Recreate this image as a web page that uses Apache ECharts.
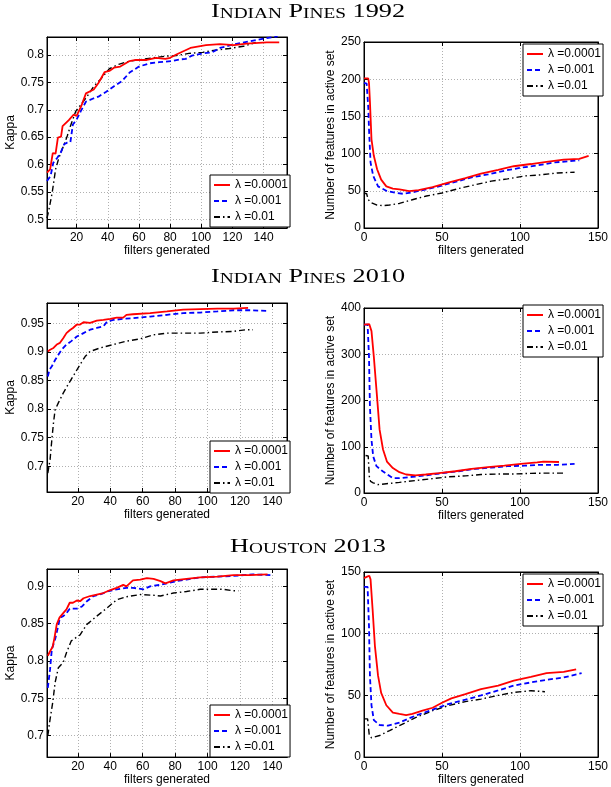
<!DOCTYPE html>
<html><head><meta charset="utf-8">
<script src="https://cdn.jsdelivr.net/npm/echarts@6/dist/echarts.min.js"></script>
<style>html,body{margin:0;padding:0;background:#fff}#c{width:611px;height:787px}</style>
</head><body><div id="c"></div>
<script>
// ---------- data ----------
const seriesNames = ['λ =0.0001', 'λ =0.001', 'λ =0.01'];
const panelTitles = ['INDIAN PINES 1992', 'INDIAN PINES 2010', 'HOUSTON 2013'];
const xLabel = 'filters generated';
const kappaLabel = 'Kappa';
const featLabel = 'Number of features in active set';

const kappaXTicks = [20, 40, 60, 80, 100, 120, 140];
const ip92KappaTicks = [0.5, 0.55, 0.6, 0.65, 0.7, 0.75, 0.8];
const ip10KappaTicks = [0.7, 0.75, 0.8, 0.85, 0.9, 0.95];
const hou13KappaTicks = [0.7, 0.75, 0.8, 0.85, 0.9];

// Indian Pines 1992 – Kappa
const ip92KappaA = [[1,0.585],[3,0.591],[4.7,0.621],[6.5,0.620],[8,0.649],[10,0.651],[11,0.670],[15,0.681],[18,0.691],[20,0.689],[23,0.707],[26,0.730],[31,0.737],[34,0.749],[38,0.769],[41,0.771],[44,0.777],[48,0.779],[54,0.789],[58,0.791],[65,0.791],[71,0.795],[77,0.793],[80,0.795],[84,0.801],[93,0.813],[103,0.818],[112,0.820],[121,0.818],[129,0.821],[142,0.823],[150,0.823]];
const ip92KappaB = [[1,0.570],[3.3,0.579],[5,0.603],[7.5,0.612],[9.7,0.621],[12,0.637],[14,0.640],[16,0.641],[17.6,0.673],[20,0.682],[22.6,0.697],[26,0.715],[31,0.721],[34,0.724],[39,0.733],[44,0.743],[49,0.752],[54,0.768],[60,0.779],[67,0.785],[73,0.787],[81,0.789],[86,0.792],[90,0.793],[94,0.799],[101,0.803],[107,0.805],[112,0.813],[120,0.819],[129,0.824],[140,0.830],[149,0.834]];
const ip92KappaC = [[1,0.502],[2.2,0.517],[4.3,0.548],[6.5,0.591],[8.6,0.612],[12,0.637],[14,0.652],[16,0.670],[19.4,0.697],[22.6,0.709],[26.6,0.724],[31,0.743],[35.5,0.756],[41,0.775],[47,0.783],[54,0.789],[60,0.791],[69,0.795],[77,0.798],[84,0.799],[92,0.803],[101,0.805],[109,0.809],[118,0.812],[127,0.816],[135,0.823]];

// Indian Pines 1992 – features
const ip92FeatA = [[0,201],[1,202],[2.7,201],[3.2,195],[3.8,170],[4.8,119],[6.3,97],[8.4,79],[11,65],[14.3,56],[18.5,53],[22.7,52],[29,49.5],[35,51],[44,55],[54,61],[65,67],[75,73],[86,78],[96,83],[107,86],[117,89],[128,92],[138,93],[144,97]];
const ip92FeatB = [[0,195],[1.7,194],[2.8,160],[3.2,133],[4.2,88],[5.9,70],[9,56],[14.3,50],[20.6,47],[25,46],[31,48],[40,52],[48,56],[58.5,62],[69,68],[79.5,72],[90,77],[100.6,81],[111,84],[121.6,88],[132,90],[138,91]];
const ip92FeatC = [[0,47],[1.7,46],[2.7,38],[4.8,34],[8,31],[12,30],[16.4,31],[22.7,33],[31,38],[40,43],[50,47],[60.6,53],[71,58],[81.6,63],[92,66],[103,70],[111,71],[124,74],[135,75]];

// Indian Pines 2010 – Kappa
const ip10KappaA = [[1.5,0.901],[2.9,0.904],[5,0.907],[7,0.913],[9,0.916],[11,0.924],[13,0.933],[15,0.938],[17,0.942],[19.4,0.948],[21.4,0.948],[23.5,0.952],[27.6,0.951],[31.7,0.955],[35.8,0.956],[40,0.958],[44,0.960],[48,0.960],[50,0.965],[54,0.966],[64.6,0.968],[75,0.971],[85,0.974],[95.5,0.975],[106,0.976],[116,0.976],[125,0.977]];
const ip10KappaB = [[1.5,0.857],[2.5,0.869],[4,0.875],[6,0.886],[8,0.895],[10,0.904],[13,0.913],[16,0.919],[19.4,0.927],[23.5,0.933],[27.6,0.939],[31.7,0.942],[35.8,0.945],[38,0.953],[42,0.956],[48,0.958],[54,0.959],[64.6,0.962],[75,0.965],[85,0.968],[95.5,0.969],[106,0.971],[116,0.973],[126,0.973],[137,0.972]];
const ip10KappaC = [[1.5,0.688],[2.9,0.712],[4,0.747],[5,0.776],[6,0.799],[8,0.811],[11,0.828],[14,0.843],[17,0.857],[21.4,0.878],[24.5,0.892],[27.6,0.901],[33.7,0.907],[42,0.913],[50,0.919],[58.5,0.923],[66.7,0.930],[75,0.933],[85,0.933],[95.5,0.933],[106,0.935],[116,0.936],[124,0.939],[128,0.939]];

// Indian Pines 2010 – features
const ip10FeatA = [[0,364],[3.4,365],[4.8,350],[6.3,295],[8,223],[10,137],[12.2,94],[14.7,68],[18.5,54],[22.7,45],[27,40],[33,38],[39.6,40],[48,43],[58.5,47],[69,52],[79.5,56],[90,59],[100.6,63],[111,66],[115,68],[125,67]];
const ip10FeatB = [[0,364],[2.3,364],[3.2,295],[3.8,187],[4.8,115],[5.9,79],[8,58],[12,47],[18.5,32],[22.7,32],[31,35],[40,38],[50,43],[60.6,47],[71,52],[81.6,55],[92,58],[103,59],[113,61],[124,61],[135,63]];
const ip10FeatC = [[1,81],[2.7,80],[3.4,36],[4.2,25],[5.9,22],[9,18],[14.3,20],[22.7,23],[33,27],[44,31],[54,35],[65,37],[75,40],[86,41],[96,41],[107,42.5],[117,43],[129,43]];

// Houston 2013 – Kappa
const hou13KappaA = [[1.5,0.807],[2.9,0.813],[4.5,0.819],[5.6,0.831],[7,0.849],[8.7,0.858],[11,0.864],[13,0.869],[15,0.878],[17,0.878],[19.4,0.881],[21.4,0.880],[23.5,0.884],[27.6,0.887],[31.7,0.889],[35.8,0.891],[40,0.895],[44,0.898],[48,0.902],[50,0.900],[54,0.908],[58.5,0.909],[62.6,0.911],[66.7,0.910],[71,0.907],[74,0.904],[79,0.908],[87,0.910],[95.5,0.912],[106,0.913],[116,0.915],[126,0.915],[137,0.916]];
const hou13KappaB = [[1.5,0.764],[2.9,0.789],[4,0.816],[6,0.829],[7.4,0.842],[9,0.858],[11,0.860],[13,0.864],[15,0.870],[19.4,0.870],[22.6,0.873],[25.6,0.880],[29.7,0.887],[33.7,0.889],[38,0.893],[44,0.896],[50,0.898],[54,0.898],[60.6,0.896],[64.6,0.900],[71,0.902],[75,0.904],[81,0.907],[87,0.909],[95.5,0.912],[106,0.913],[116,0.914],[128,0.916],[140,0.915]];
const hou13KappaC = [[1.5,0.700],[2.9,0.722],[4.5,0.744],[6,0.771],[8,0.791],[11,0.798],[13,0.811],[16,0.827],[21.4,0.835],[25.6,0.849],[31.7,0.860],[38,0.871],[44,0.882],[50,0.886],[58.5,0.889],[66.7,0.888],[71,0.887],[79,0.891],[87,0.893],[95.5,0.896],[104,0.896],[110,0.896],[116,0.894],[119,0.894]];

// Houston 2013 – features
const hou13FeatA = [[0,145],[1.7,146],[3.4,147],[4.2,144],[5.5,120],[7,90],[9,66],[11,52],[14.3,42],[18.5,36],[22.7,35],[27,34],[31,35],[37.5,37.6],[44,40],[50,44],[56,47.6],[65,51],[75,55],[86,58],[96,62],[107,65],[117,68],[128,69],[136,71]];
const hou13FeatB = [[0,138],[2.3,138],[3.2,106],[3.8,66],[4.8,42],[6.3,30],[10,26],[15.4,25.5],[22.7,28],[33,33.6],[44,38.4],[54,43],[65,46.5],[75,50],[86,54],[96,58],[107,60.5],[117,62.6],[128,64.5],[139.5,68]];
const hou13FeatC = [[0,31],[2.3,31],[3.4,17.5],[4.8,15.6],[10,17.5],[16.4,21.5],[22.7,25.5],[33,32],[44,37.6],[54,41.7],[65,45],[75,47],[86,50],[96,52.4],[107,53.8],[116,53]];

// ---------- chart ----------
const SANS = 'Liberation Sans, Arial, Helvetica, sans-serif';
const SERIF = 'Liberation Serif, Times New Roman, serif';
const lineStyles = [
  {color: '#ff0000', width: 1.8, type: 'solid'},
  {color: '#0000ff', width: 1.8, type: [5, 3]},
  {color: '#000000', width: 1.4, type: [6, 3, 1.5, 3]}
];

const panels = [
  {grid: {left: 47, top: 37, width: 240, height: 191}, kind: 'kappa', xMin: 1, xMax: 155, yMin: 0.484, yMax: 0.833, yTicks: ip92KappaTicks, data: [ip92KappaA, ip92KappaB, ip92KappaC], legend: {left: 210, top: 175}},
  {grid: {left: 364, top: 42, width: 238, height: 186}, kind: 'feat', yMax: 250, yInterval: 50, data: [ip92FeatA, ip92FeatB, ip92FeatC], legend: {left: 523, top: 44}},
  {grid: {left: 47, top: 303, width: 240, height: 189}, kind: 'kappa', xMin: 1, xMax: 149, yMin: 0.655, yMax: 0.9857, yTicks: ip10KappaTicks, data: [ip10KappaA, ip10KappaB, ip10KappaC], legend: {left: 210, top: 441}},
  {grid: {left: 364, top: 308, width: 238, height: 185}, kind: 'feat', yMax: 400, yInterval: 100, data: [ip10FeatA, ip10FeatB, ip10FeatC], legend: {left: 523, top: 305}},
  {grid: {left: 47, top: 569, width: 240, height: 189}, kind: 'kappa', xMin: 1, xMax: 149, yMin: 0.6712, yMax: 0.9232, yTicks: hou13KappaTicks, data: [hou13KappaA, hou13KappaB, hou13KappaC], legend: {left: 210, top: 705}},
  {grid: {left: 364, top: 572, width: 238, height: 186}, kind: 'feat', yMax: 150, yInterval: 50, data: [hou13FeatA, hou13FeatB, hou13FeatC], legend: {left: 523, top: 574}}
];

const splitLine = {show: true, lineStyle: {color: '#b0b0b0', width: 1, type: [1, 2]}};
const axisLine = {show: true, onZero: false, lineStyle: {color: '#000', width: 1}};
const labelStyle = {color: '#000', fontFamily: SANS, fontSize: 12};
const tickStyle = {color: '#000', width: 1};

const grids = [], xAxes = [], yAxes = [], series = [], legends = [];
panels.forEach((p, i) => {
  grids.push(Object.assign({show: true, borderColor: '#000', borderWidth: 1, backgroundColor: '#fff'}, p.grid));
  let xBase, yBase, xTicks = null, yTicks = null;
  if (p.kind === 'kappa') {
    xBase = {min: p.xMin, max: p.xMax}; xTicks = kappaXTicks;
    yBase = {min: p.yMin, max: p.yMax}; yTicks = p.yTicks;
  } else {
    xBase = {min: 0, max: 150, interval: 50};
    yBase = {min: 0, max: p.yMax, interval: p.yInterval};
  }
  const tick = (vals) => Object.assign({inside: true, length: 4, lineStyle: tickStyle}, vals ? {customValues: vals} : {});
  const lab = (m, vals) => Object.assign({margin: m}, labelStyle, vals ? {customValues: vals} : {});
  // bottom / left axes with labels and grid lines
  xAxes.push(Object.assign({type: 'value', gridIndex: i, position: 'bottom',
    name: xLabel, nameLocation: 'middle', nameGap: 16, nameTextStyle: labelStyle,
    axisLine, axisTick: tick(xTicks), axisLabel: lab(4, xTicks), splitLine}, xBase));
  yAxes.push(Object.assign({type: 'value', gridIndex: i, position: 'left',
    name: p.kind === 'kappa' ? kappaLabel : featLabel, nameLocation: 'middle',
    nameGap: p.kind === 'kappa' ? 26 : 25, nameTextStyle: labelStyle,
    axisLine, axisTick: tick(yTicks), axisLabel: lab(3, yTicks), splitLine}, yBase));
  // mirrored top / right axes: ticks only
  xAxes.push(Object.assign({type: 'value', gridIndex: i, position: 'top',
    axisLine, axisTick: tick(xTicks), axisLabel: Object.assign({show: false}, xTicks ? {customValues: xTicks} : {}),
    splitLine: {show: false}}, xBase));
  yAxes.push(Object.assign({type: 'value', gridIndex: i, position: 'right',
    axisLine, axisTick: tick(yTicks), axisLabel: Object.assign({show: false}, yTicks ? {customValues: yTicks} : {}),
    splitLine: {show: false}}, yBase));
  p.data.forEach((d, k) => {
    series.push({type: 'line', name: seriesNames[k], xAxisIndex: 2 * i, yAxisIndex: 2 * i, data: d,
      symbol: 'none', showSymbol: false, silent: true, animation: false,
      color: lineStyles[k].color, lineStyle: lineStyles[k], z: 10 - k});
  });
  legends.push({orient: 'vertical', left: p.legend.left, top: p.legend.top, data: seriesNames,
    itemWidth: 16, itemHeight: 12, itemGap: 4, padding: [4, 2, 4, 3],
    itemStyle: {opacity: 0, borderWidth: 0},
    borderColor: '#000', borderWidth: 1, backgroundColor: '#fff',
    textStyle: {color: '#000', fontFamily: SANS, fontSize: 12}, selectedMode: false});
});

function smallCaps(t) {
  return t.split(' ').map(w => /^\d+$/.test(w) ? '{b|' + w + '}' : '{b|' + w[0] + '}{s|' + w.slice(1) + '}').join('{b| }');
}
const titleY = [12, 277, 547];
const graphics = panelTitles.map((t, i) => ({
  type: 'text', x: 308, y: titleY[i], scaleX: 1.38,
  style: {text: smallCaps(t), fill: '#000', fontFamily: SERIF, fontSize: 19, align: 'center', verticalAlign: 'middle',
    rich: {b: {fontFamily: SERIF, fontSize: 19, fill: '#000', verticalAlign: 'bottom'},
           s: {fontFamily: SERIF, fontSize: 14, fill: '#000', verticalAlign: 'bottom'}}}
}));

const chart = echarts.init(document.getElementById('c'), null, {renderer: 'canvas'});
chart.setOption({animation: false, backgroundColor: '#fff', grid: grids, xAxis: xAxes, yAxis: yAxes,
  series, legend: legends, graphic: graphics});
</script></body></html>
